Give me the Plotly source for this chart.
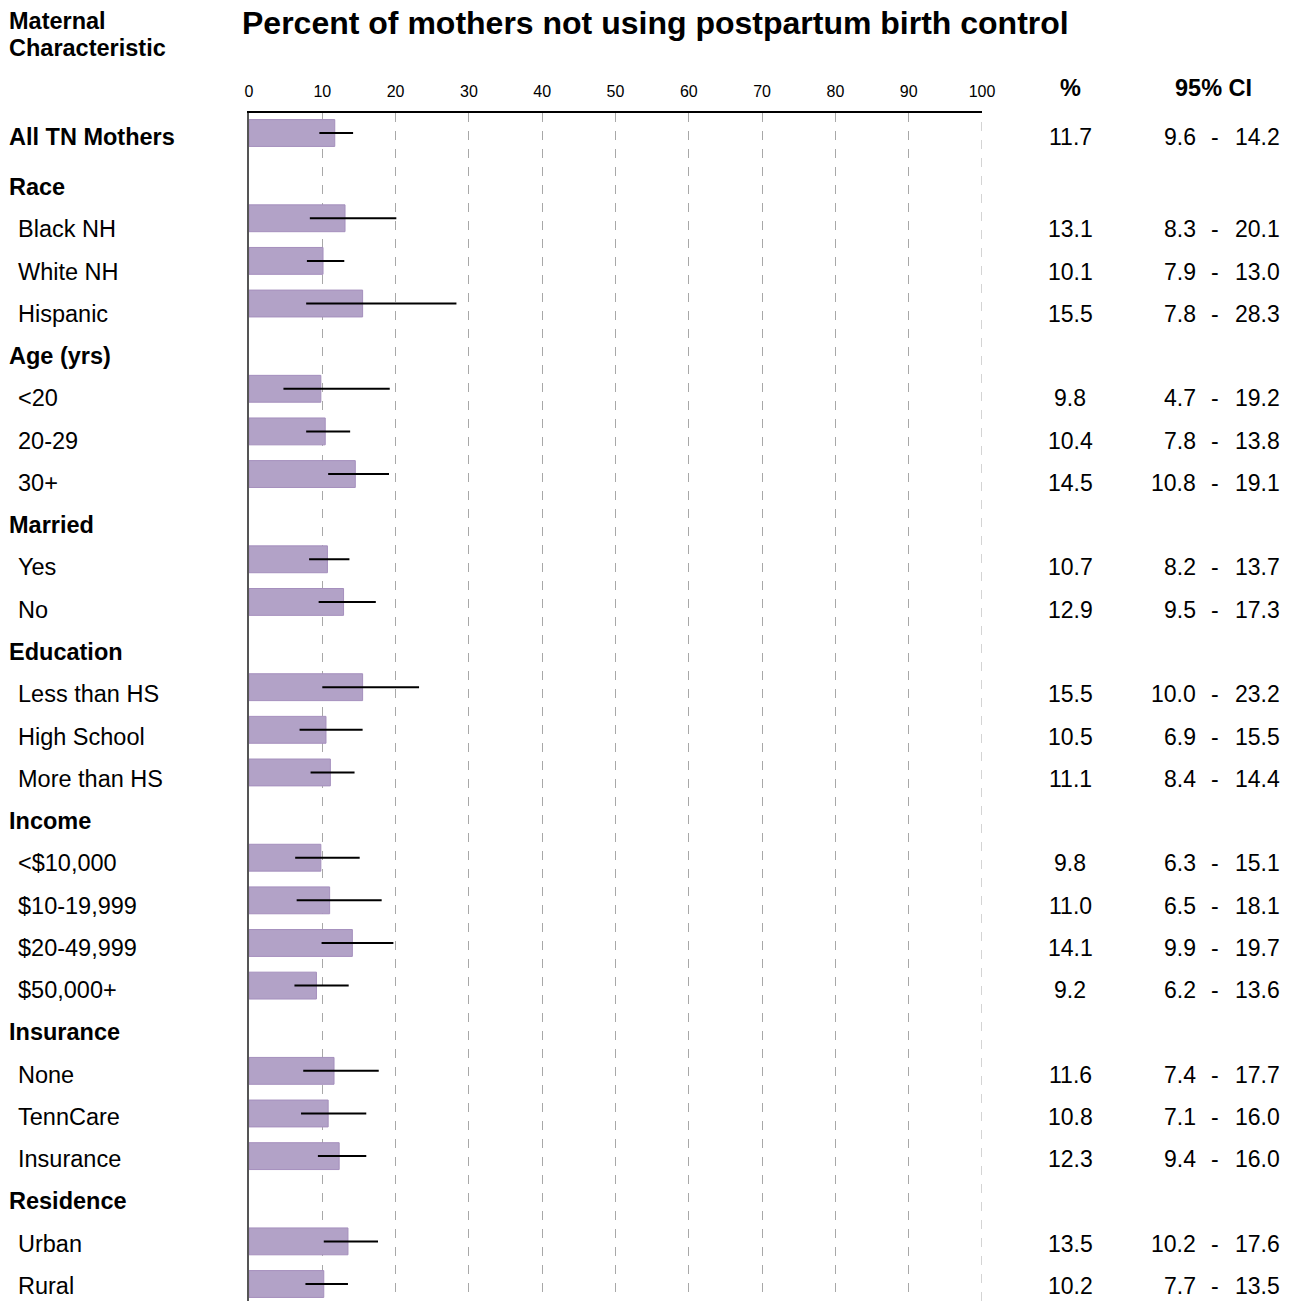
import plotly.graph_objects as go

# Table rows: (label, is_header)
row_labels = ["All TN Mothers", "Race", "Black NH", "White NH", "Hispanic",
              "Age (yrs)", "<20", "20-29", "30+",
              "Married", "Yes", "No",
              "Education", "Less than HS", "High School", "More than HS",
              "Income", "<$10,000", "$10-19,999", "$20-49,999", "$50,000+",
              "Insurance", "None", "TennCare", "Insurance",
              "Residence", "Urban", "Rural"]
is_header = [True, True, False, False, False,
             True, False, False, False,
             True, False, False,
             True, False, False, False,
             True, False, False, False, False,
             True, False, False, False,
             True, False, False]

# Percent not using postpartum birth control (None = section header)
pct = [11.7, None, 13.1, 10.1, 15.5,
       None, 9.8, 10.4, 14.5,
       None, 10.7, 12.9,
       None, 15.5, 10.5, 11.1,
       None, 9.8, 11.0, 14.1, 9.2,
       None, 11.6, 10.8, 12.3,
       None, 13.5, 10.2]
ci_low = [9.6, None, 8.3, 7.9, 7.8,
          None, 4.7, 7.8, 10.8,
          None, 8.2, 9.5,
          None, 10.0, 6.9, 8.4,
          None, 6.3, 6.5, 9.9, 6.2,
          None, 7.4, 7.1, 9.4,
          None, 10.2, 7.7]
ci_high = [14.2, None, 20.1, 13.0, 28.3,
           None, 19.2, 13.8, 19.1,
           None, 13.7, 17.3,
           None, 23.2, 15.5, 14.4,
           None, 15.1, 18.1, 19.7, 13.6,
           None, 17.7, 16.0, 16.0,
           None, 17.6, 13.5]
x_ticks = [0, 10, 20, 30, 40, 50, 60, 70, 80, 90, 100]

FONT = "Liberation Sans, Arial, sans-serif"
NARROW = "Liberation Sans Narrow, Arial Narrow, Liberation Sans, sans-serif"
BAR_COLOR = "#b2a2c7"
GRID_COLOR = "#a8a8a8"

W, H = 1294, 1301
L, R, T, B = 249, 312, 113, 0
PW = W - L - R


def px_x(p):
    return (p - L) / PW


def px_y(p):
    return 1 - (p - T) / (H - T - B)


idx = [i for i, v in enumerate(pct) if v is not None]
vals = [pct[i] for i in idx]
err_plus = [ci_high[i] - pct[i] for i in idx]
err_minus = [pct[i] - ci_low[i] for i in idx]

fig = go.Figure()
fig.add_trace(go.Bar(
    x=vals, y=idx, orientation="h", width=0.63,
    marker=dict(color=BAR_COLOR, line=dict(color="#a58fbd", width=1)),
    error_x=dict(type="data", array=err_plus, arrayminus=err_minus,
                 color="black", thickness=2, width=0),
    hoverinfo="skip", showlegend=False,
))

# Dashed reference line at the right end of the scale
fig.add_vline(x=100, line=dict(color=GRID_COLOR, width=1, dash="dash"), layer="below")

# Row spacing: bars 42.63 px per row, text rows 42.27 px per row
bar_step = 42.63
y_top = -20 / bar_step
y_bot = y_top + (H - T - B) / bar_step

txt_step = 42.27
t_top = 1 + (T - 187) / txt_step
t_bot = 1 + (H - B - 187) / txt_step

LABEL_SIZE = 23.5
VALUE_SIZE = 23

annotations = []


def add_text(x_px, row, text, anchor, size, shift):
    annotations.append(dict(x=px_x(x_px), xref="paper", y=row, yref="y2", yshift=shift,
                            text=text, showarrow=False, xanchor=anchor, yanchor="middle",
                            borderpad=0,
                            font=dict(family=FONT, size=size, color="black")))


for i, lab in enumerate(row_labels):
    shift = 7.7 if i == 0 else 0
    if is_header[i]:
        add_text(8, i, f"<b>{lab}</b>", "left", LABEL_SIZE, shift)
    else:
        add_text(17, i, lab, "left", LABEL_SIZE, shift)
    if pct[i] is not None:
        add_text(1070, i, f"{pct[i]:.1f}", "center", VALUE_SIZE, shift)
        add_text(1197, i, f"{ci_low[i]:.1f}", "right", VALUE_SIZE, shift)
        add_text(1215, i, "-", "center", VALUE_SIZE, shift)
        add_text(1281, i, f"{ci_high[i]:.1f}", "right", VALUE_SIZE, shift)


def add_heading(x_px, y_px, text, anchor, size):
    annotations.append(dict(x=px_x(x_px), xref="paper", y=px_y(y_px), yref="paper",
                            text=text, showarrow=False, xanchor=anchor, yanchor="middle",
                            borderpad=0,
                            font=dict(family=FONT, size=size, color="black")))


add_heading(241, 23, "<b>Percent of mothers not using postpartum birth control</b>", "left", 32)
add_heading(8, 21, "<b>Maternal</b>", "left", 23.5)
add_heading(8, 48, "<b>Characteristic</b>", "left", 23.5)
add_heading(1070, 88, "<b>%</b>", "center", 23.5)
add_heading(1213, 88, "<b>95% CI</b>", "center", 23.5)

fig.update_layout(
    width=W, height=H,
    margin=dict(l=L, r=R, t=T, b=B, pad=0),
    paper_bgcolor="white", plot_bgcolor="white",
    showlegend=False,
    xaxis=dict(range=[0, 100], side="top", tickmode="array", tickvals=x_ticks,
               tickfont=dict(family=NARROW, size=16, color="black"),
               ticks="", ticklabelstandoff=8,
               showgrid=True, gridcolor=GRID_COLOR, griddash="dash", gridwidth=1,
               showline=True, linecolor="black", linewidth=2,
               zeroline=False, fixedrange=True),
    yaxis=dict(range=[y_bot, y_top], showticklabels=False, ticks="",
               showgrid=False, zeroline=False,
               showline=True, linecolor="#555555", linewidth=2, fixedrange=True),
    yaxis2=dict(range=[t_bot, t_top], overlaying="y", visible=False,
                showgrid=False, zeroline=False, fixedrange=True),
    annotations=annotations,
)

fig.write_html("out.html", config={"displayModeBar": False})
